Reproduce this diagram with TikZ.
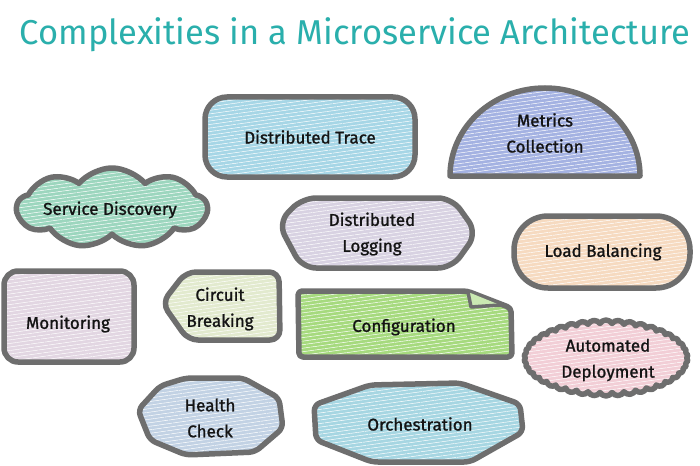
\documentclass[tikz,border=0pt]{standalone}
\usepackage{fontspec}
\setmainfont{Fira Sans}
\newfontfamily\handfont{Fira Sans}[FakeBold=1.2]
\usetikzlibrary{shapes.symbols,patterns.meta}

\definecolor{edge}{HTML}{6E6E6E}
\definecolor{ink}{HTML}{141414}
\definecolor{heading}{HTML}{2AAFAC}
\definecolor{tracefill}{HTML}{A6D6E6}
\definecolor{metricfill}{HTML}{A4B2E2}
\definecolor{discofill}{HTML}{9CD6BE}
\definecolor{logfill}{HTML}{D8D2E2}
\definecolor{balancefill}{HTML}{F6DAC0}
\definecolor{monifill}{HTML}{E2D6E2}
\definecolor{circuitfill}{HTML}{E2EACE}
\definecolor{configfill}{HTML}{A6DA7E}
\definecolor{deployfill}{HTML}{F2CED6}
\definecolor{healthfill}{HTML}{C2D2E4}
\definecolor{orchfill}{HTML}{A6D6E2}

\begin{document}
\begin{tikzpicture}[x=1pt, y=-1pt,
  box/.style={draw=edge, line width=5.5pt, line join=round},
  hatch/.style={preaction={fill=#1}, pattern={Lines[angle=8,distance=3.5pt,line width=.5pt]}, pattern color=white},
  txt/.style={font=\handfont\fontsize{17}{26}\selectfont, text=ink, align=center},
  title/.style={font=\fontsize{34.5}{40}\selectfont, text=heading}]

  \useasboundingbox (0,0) rectangle (700,465);
  \fill[white] (0,0) rectangle (700,465);

  \node[title] (head) at (355,35) {Complexities in a Microservice Architecture};

  % top row
  \draw[box, hatch=tracefill, rounded corners=22] (205,97) rectangle (415,177);
  \node[txt] (trace) at (310,137) {Distributed Trace};

  \draw[box, hatch=metricfill] (450,176) arc[start angle=180, end angle=360, x radius=95, y radius=88] -- cycle;
  \node[txt] (metrics) at (545,133) {Metrics\\Collection};

  % middle rows
  \node[box, hatch=discofill, cloud, cloud puffs=9, cloud puff arc=100, aspect=2.6,
        minimum width=190pt, minimum height=80pt] (disco) at (112,208) {};
  \node[txt] (discotxt) at (110,210) {Service Discovery};

  \draw[box, hatch=logfill, rounded corners=14]
    (278,223) -- (302,198) -- (452,198) -- (477,233) -- (452,268) -- (302,268) -- cycle;
  \node[txt] (logging) at (372,234) {Distributed\\Logging};

  \draw[box, hatch=balancefill, rounded corners=34] (514,216) rectangle (690,288);
  \node[txt] (balance) at (603,252) {Load Balancing};

  \draw[box, hatch=monifill, rounded corners=14] (4,271) rectangle (134,362);
  \node[txt] (moni) at (68,324) {Monitoring};

  \draw[box, hatch=circuitfill, rounded corners=10]
    (162,303) -- (186,272) -- (279,272) -- (280,340) -- (188,340) -- cycle;
  \node[txt] (circuit) at (220,309) {Circuit\\Breaking};

  \draw[box, hatch=configfill, rounded corners=4]
    (298,291) -- (467,291) -- (511,308) -- (512,357) -- (299,357) -- cycle;
  \draw[box, line width=3.5pt, fill=configfill!60] (468,292) -- (471,307) -- (500,305);
  \node[txt] (config) at (404,327) {Configuration};

  \node[box, hatch=deployfill, cloud, cloud puffs=42, cloud puff arc=120, aspect=2.1,
        minimum width=164pt, minimum height=76pt] (deploy) at (606,358) {};
  \node[txt] (deploytxt) at (608,360) {Automated\\Deployment};

  % bottom row
  \draw[box, hatch=healthfill, rounded corners=6]
    (138,410) -- (160,386) -- (186,378) -- (243,378) -- (279,398) -- (283,428)
    -- (255,452) -- (186,455) -- (150,440) -- cycle;
  \node[txt] (health) at (210,418) {Health\\Check};

  \draw[box, hatch=orchfill, rounded corners=6]
    (314,405) -- (370,385) -- (460,383) -- (520,404) -- (523,432) -- (470,462)
    -- (372,462) -- (316,440) -- cycle;
  \node[txt] (orch) at (420,424) {Orchestration};
\end{tikzpicture}
\end{document}
